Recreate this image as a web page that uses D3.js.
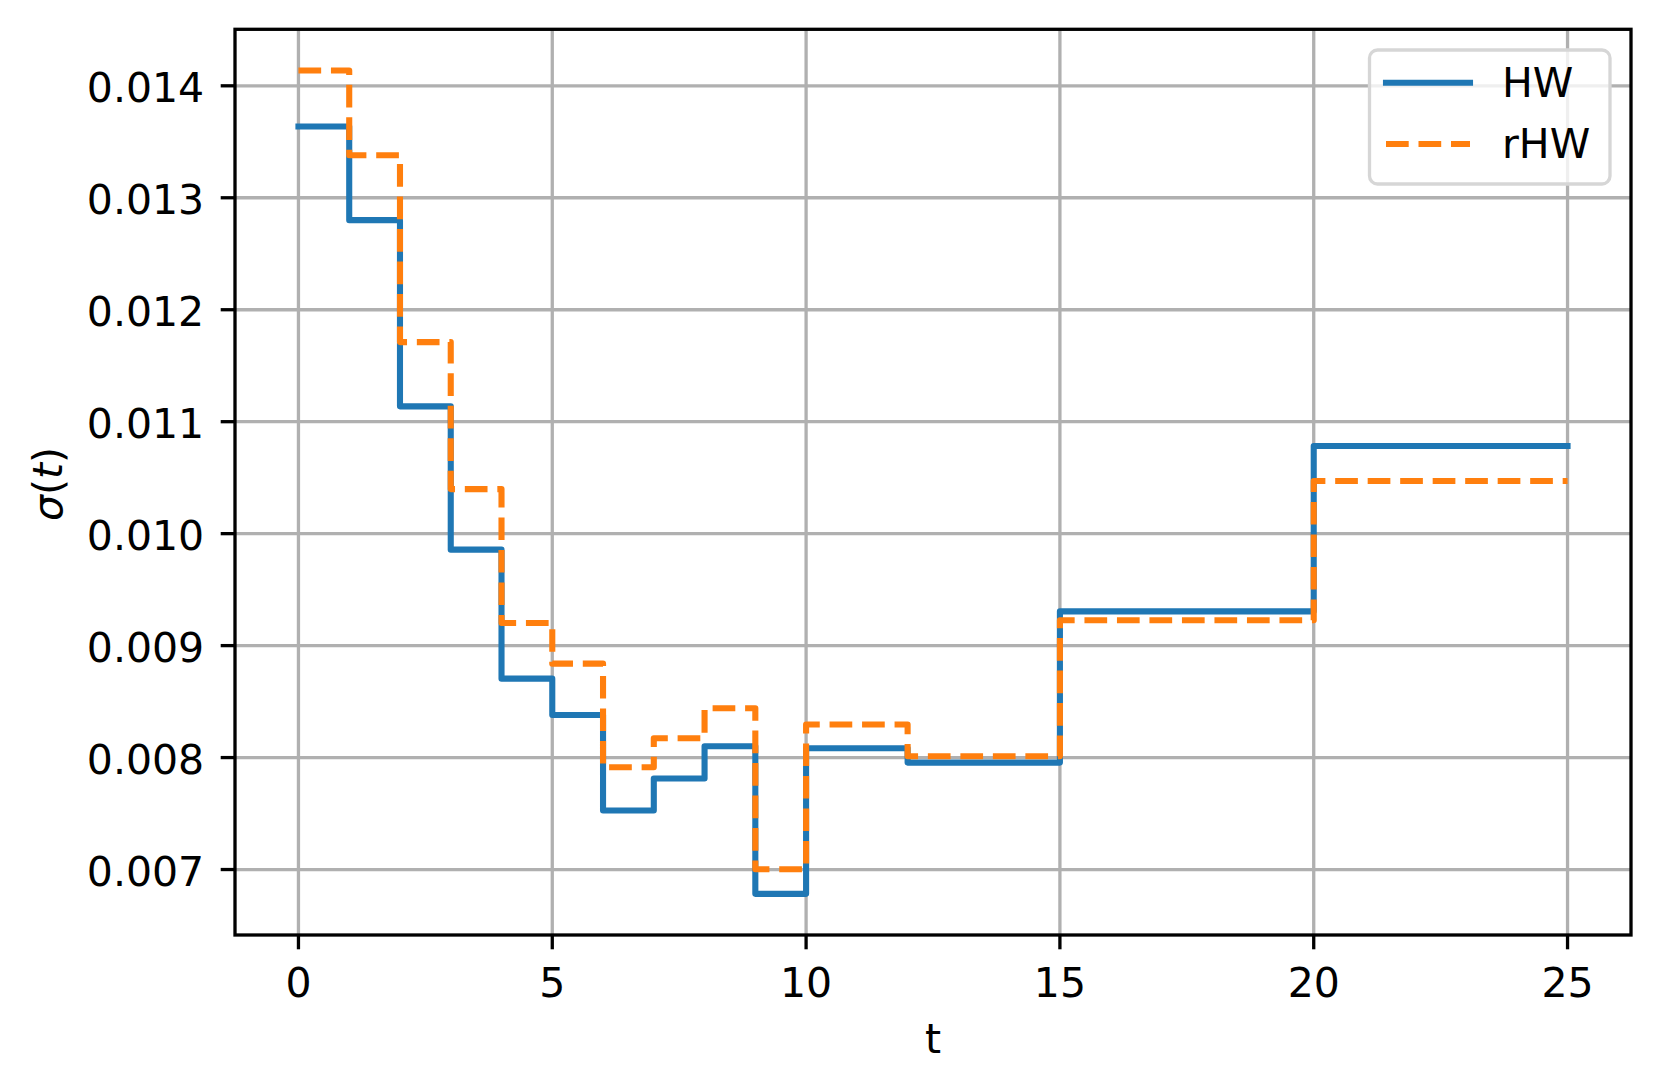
<!DOCTYPE html>
<html><head><meta charset="utf-8">
<script src="https://cdn.jsdelivr.net/npm/d3@7"></script>
<style>body{margin:0;background:#fff}svg{display:block}text{font-family:"DejaVu Sans",sans-serif}</style>
</head><body><svg id="c" width="1660" height="1091"></svg>
<script>
const times = [0,1,2,3,4,5,6,7,8,9,10,12,15,20,25];
const hwValues = [0.013637,0.0128,0.011137,0.009857,0.008705,0.00838,0.007527,0.007813,0.008101,0.006783,0.008083,0.007955,0.009306,0.010783,0.010783];
const rhwValues = [0.014137,0.01338,0.011711,0.010398,0.009202,0.008839,0.007913,0.008172,0.00844,0.007003,0.008295,0.008012,0.009226,0.01047,0.01047];
const seriesNames = ["HW","rHW"];
const xTicks = [0,5,10,15,20,25];
const yTicks = [0.007,0.008,0.009,0.010,0.011,0.012,0.013,0.014];

const svg = d3.select("#c");
const L=235, R=1631, T=29.3, B=935;
const allV = hwValues.concat(rhwValues);
const vmin=d3.min(allV), vmax=d3.max(allV), pad=(vmax-vmin)*0.05;
const x = d3.scaleLinear().domain([-1.25,26.25]).range([L,R]);
const y = d3.scaleLinear().domain([vmin-pad,vmax+pad]).range([B,T]);
const FS=41, TL=14.3, LW=3.3;

svg.append("rect").attr("width",1660).attr("height",1091).attr("fill","#fff");
const g = svg.append("g");
// grid
g.selectAll(".gx").data(xTicks).join("line").attr("x1",d=>x(d)).attr("x2",d=>x(d)).attr("y1",T).attr("y2",B)
 .attr("stroke","#b0b0b0").attr("stroke-width",LW);
g.selectAll(".gy").data(yTicks).join("line").attr("class","gy").attr("y1",d=>y(d)).attr("y2",d=>y(d)).attr("x1",L).attr("x2",R)
 .attr("stroke","#b0b0b0").attr("stroke-width",LW);

const line = d3.line().x(d=>x(d[0])).y(d=>y(d[1])).curve(d3.curveStepAfter);
g.append("path").attr("d",line(times.map((t,i)=>[t,hwValues[i]]))).attr("fill","none")
 .attr("stroke","#1f77b4").attr("stroke-width",6.1).attr("stroke-linejoin","round").attr("stroke-linecap","square");
g.append("path").attr("d",line(times.map((t,i)=>[t,rhwValues[i]]))).attr("fill","none")
 .attr("stroke","#ff7f0e").attr("stroke-width",6.1).attr("stroke-linejoin","round").attr("stroke-linecap","butt")
 .attr("stroke-dasharray","22.7,9.8");

// spines
g.append("rect").attr("x",L).attr("y",T).attr("width",R-L).attr("height",B-T).attr("fill","none")
 .attr("stroke","#000").attr("stroke-width",LW).attr("stroke-linecap","square");

// ticks
g.selectAll(".tx").data(xTicks).join("line").attr("x1",d=>x(d)).attr("x2",d=>x(d)).attr("y1",B).attr("y2",B+TL)
 .attr("stroke","#000").attr("stroke-width",LW);
g.selectAll(".lx").data(xTicks).join("text").attr("x",d=>x(d)).attr("y",996.7).attr("text-anchor","middle")
 .attr("font-size",FS).attr("fill","#000").text(d=>d);
g.selectAll(".ty").data(yTicks).join("line").attr("y1",d=>y(d)).attr("y2",d=>y(d)).attr("x1",L-TL).attr("x2",L)
 .attr("stroke","#000").attr("stroke-width",LW);
g.selectAll(".ly").data(yTicks).join("text").attr("x",204.2).attr("y",d=>y(d)+16.3).attr("text-anchor","end")
 .attr("font-size",FS).attr("fill","#000").text(d=>d3.format(".3f")(d));

// axis labels
g.append("text").attr("x",(L+R)/2).attr("y",1053).attr("text-anchor","middle").attr("font-size",FS).text("t");
const yl = g.append("text").attr("transform","translate(62,484) rotate(-90)").attr("text-anchor","middle").attr("font-size",FS);
yl.append("tspan").attr("font-style","italic").text("σ");
yl.append("tspan").text("(");
yl.append("tspan").attr("font-style","italic").text("t");
yl.append("tspan").text(")");

// legend
const lg = svg.append("g");
lg.append("rect").attr("x",1369.5).attr("y",50).attr("width",240.5).attr("height",134).attr("rx",8)
 .attr("fill","rgba(255,255,255,0.8)").attr("stroke","#d6d6d6").attr("stroke-width",LW);
const legY=[82.7,144];
lg.append("line").attr("x1",1386).attr("x2",1470).attr("y1",legY[0]).attr("y2",legY[0])
 .attr("stroke","#1f77b4").attr("stroke-width",6.1).attr("stroke-linecap","square");
lg.append("line").attr("x1",1386).attr("x2",1470).attr("y1",legY[1]).attr("y2",legY[1])
 .attr("stroke","#ff7f0e").attr("stroke-width",6.1).attr("stroke-linecap","butt").attr("stroke-dasharray","22.7,9.8");
lg.selectAll(".lt").data(seriesNames).join("text").attr("x",1502).attr("y",(d,i)=>legY[i]+14.3)
 .attr("font-size",FS).attr("fill","#000").text(d=>d);
</script></body></html>
